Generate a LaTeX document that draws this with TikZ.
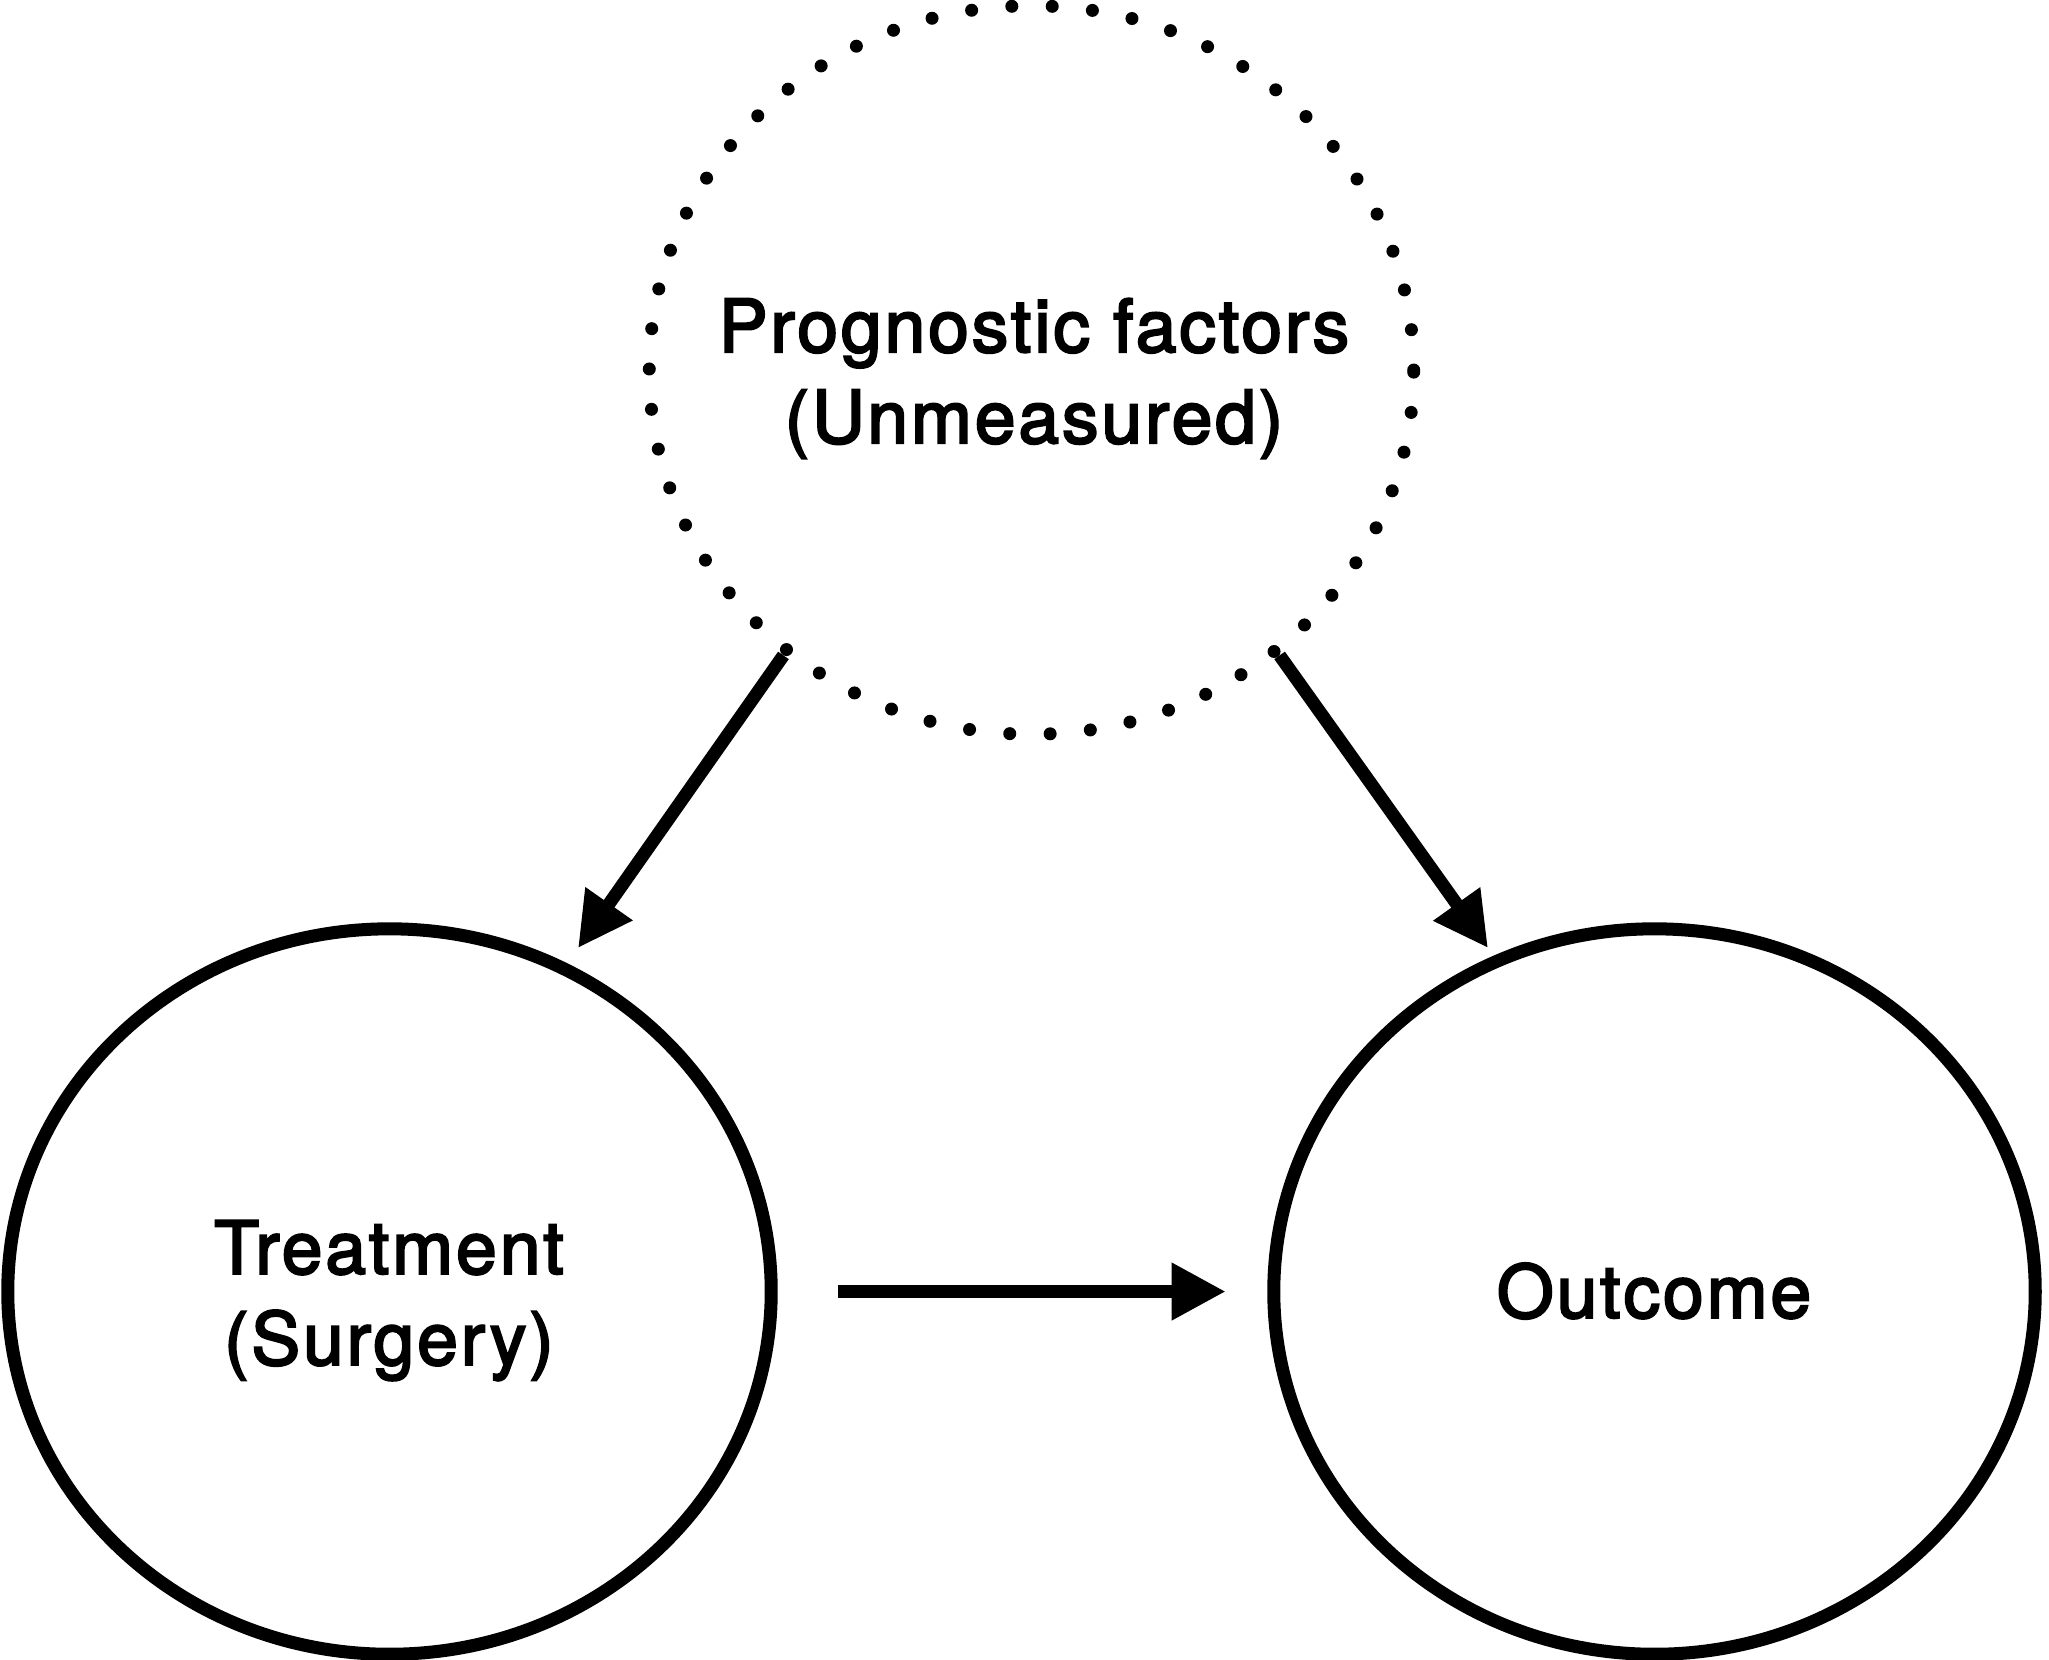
\documentclass[tikz,border=0pt]{standalone}
\usepackage{fontspec}
\setmainfont{TeX Gyre Heros}
\newfontfamily\lblfont{TeX Gyre Heros}[FakeBold=3,LetterSpace=4]
\usetikzlibrary{arrows.meta,shapes.geometric}
\begin{document}
\begin{tikzpicture}[x=0.01cm,y=-0.01cm,
  lbl/.style={font=\lblfont\fontsize{20.8pt}{25.9pt}\selectfont, align=center, inner sep=0pt},
  solidell/.style={draw, ellipse, line width=3.7pt, inner sep=0pt},
  dotell/.style={draw, ellipse, line width=3.7pt, inner sep=0pt, line cap=round, dash pattern=on 0pt off 11.49pt},
  conn/.style={line width=3.7pt, -{Triangle[length=15.4pt,width=15.4pt]}}]
\useasboundingbox (0,0) rectangle (2049,1659);
\node[dotell, minimum width=7.64cm, minimum height=7.28cm] (pf) at (1031.5,370) {};
\node[solidell, minimum width=7.63cm, minimum height=7.25cm] (tr) at (389.5,1291.5) {};
\node[solidell, minimum width=7.61cm, minimum height=7.25cm] (oc) at (1654.5,1291.5) {};
\node[lbl] (pfl) at (1034,378.5) {Prognostic factors\\(Unmeasured)};
\node[lbl] (trl) at (389,1300.5) {Treatment\\(Surgery)};
\node[lbl] (ocl) at (1654,1291) {Outcome};
\coordinate (ta) at (578,948);
\coordinate (tb) at (1488,948);
\draw[conn] (pf.229.4) -- (ta);
\draw[conn] (pf.311) -- (tb);
\draw[conn, shorten <=17.2pt, shorten >=11.8pt] (tr) -- (oc);
\end{tikzpicture}
\end{document}
